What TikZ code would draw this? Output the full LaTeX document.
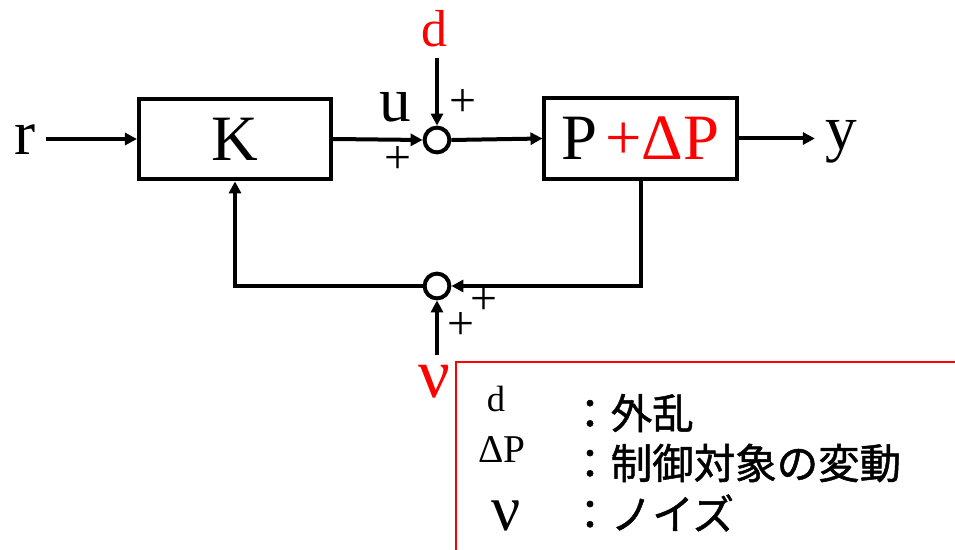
\documentclass[tikz,border=0pt]{standalone}
\usepackage{fontspec}
\setmainfont{Liberation Serif}
\newfontfamily\jpfont[FakeBold=1.2]{Noto Sans CJK JP}
\usetikzlibrary{arrows.meta, positioning}

\begin{document}
\begin{tikzpicture}[x=0.025cm, y=-0.025cm,
    arr/.style={line width=0.1cm, -{Triangle[length=0.3cm, width=0.3cm]}},
    block/.style={draw, line width=0.1cm, minimum width=4.8cm, minimum height=2.02cm, inner sep=0pt, font=\fontsize{46}{50}\selectfont},
    sum/.style={circle, draw, line width=0.1cm, minimum size=0.62cm, inner sep=0pt},
    sig/.style={anchor=base, inner sep=0.25cm, font=\fontsize{45}{48}\selectfont},
    sign/.style={anchor=center, inner sep=0pt, font=\fontsize{34}{36}\selectfont},
    legend/.style={anchor=base, inner sep=0pt},
    jp/.style={anchor=west, inner sep=0pt, font=\jpfont\fontsize{29.5}{32}\selectfont}]
    \useasboundingbox (0,0) rectangle (955,550);

    % Blocks and summing points
    \node[block] (K) at (235,139) {K};
    \node[block] (P) at (640.5,138.5) {P\hspace{0.2cm}\textcolor{red}{+ΔP}};
    \node[sum] (s1) at (437,140) {};
    \node[sum] (s2) at (437,286) {};

    % Signals
    \node[sig] (r) at (25,155) {r};
    \node[sig] (u) at (395,122) {u};
    \node[sig] (y) at (841,150) {y};
    \node[sig, red, font=\fontsize{37}{40}\selectfont] (d) at (435,47) {d};
    \node[sig, red, font=\fontsize{50}{52}\selectfont] (nu) at (434,398) {ν};

    % Signs
    \node[sign] (p1) at (463,103) {+};
    \node[sign] (p2) at (398,160) {+};
    \node[sign] (p3) at (484,301) {+};
    \node[sign] (p4) at (461,326) {+};

    % Connections
    \draw[arr] (r.east |- K.west) -- (K.west);
    \draw[arr] (K.east) -- (s1.west);
    \draw[arr] (d.south -| s1) -- (s1.north);
    \draw[arr] (s1.east) -- (P.west);
    \draw[arr] (P.east) -- (P.east -| y.west);
    \draw[arr] (P.south) |- (s2.east);
    \draw[arr] (s2.west) -| (K.south);
    \draw[arr] (nu.north -| s2) -- (s2.south);

    % Legend
    \draw[red, line width=0.05cm] (456,550) -- (456,362) -- (955,362);
    \node[legend, font=\fontsize{26}{28}\selectfont] (ld) at (496,412) {d};
    \node[legend, font=\fontsize{28}{30}\selectfont] (ldp) at (502,463) {ΔP};
    \node[legend, font=\fontsize{46}{48}\selectfont] (lnu) at (506,530) {ν};
    \node[jp] (t1) at (569,413) {：外乱};
    \node[jp] (t2) at (569,463) {：制御対象の変動};
    \node[jp] (t3) at (569,513) {：ノイズ};
\end{tikzpicture}
\end{document}
